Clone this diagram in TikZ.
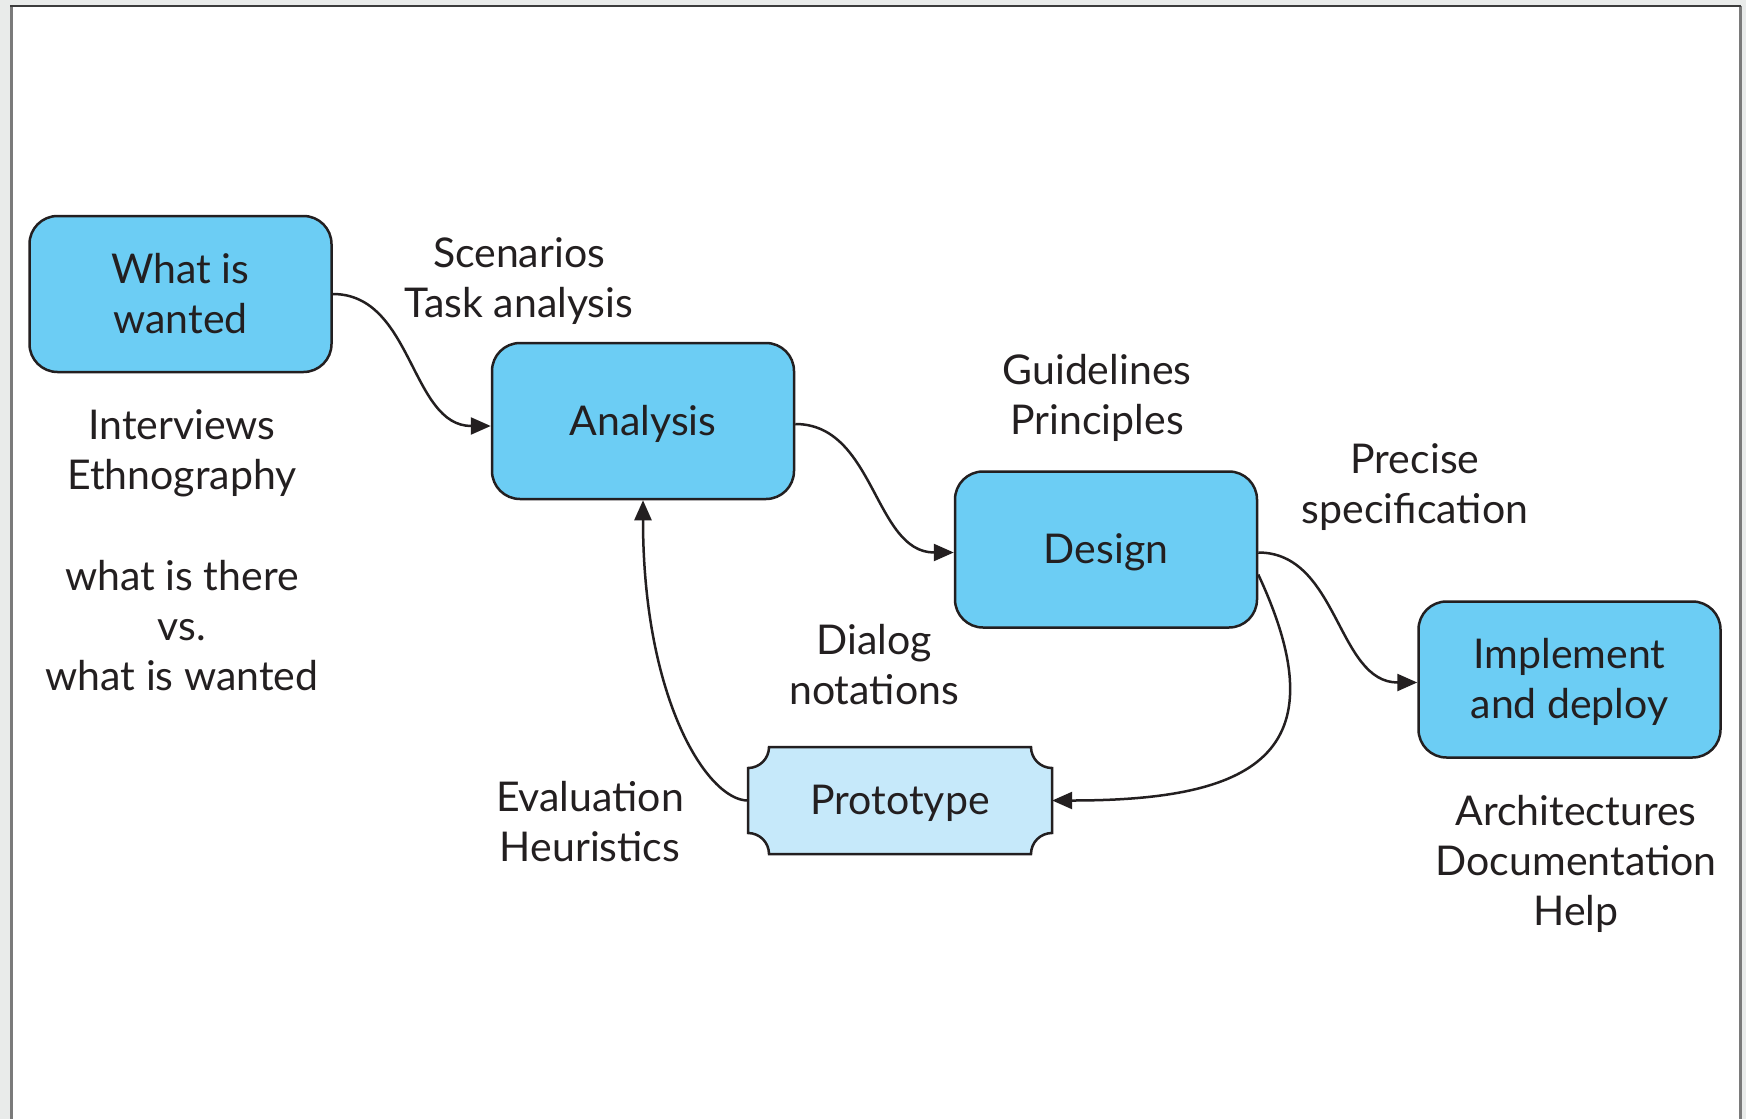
\documentclass[tikz,border=0pt]{standalone}
\usepackage{fontspec}
\setmainfont{Lato}
\usetikzlibrary{arrows.meta,calc}

\definecolor{ink}{HTML}{231F20}
\definecolor{boxblue}{HTML}{6CCDF4}
\definecolor{protoblue}{HTML}{C6E9FA}
\definecolor{pagegray}{HTML}{E9EBEA}
\definecolor{rimgray}{HTML}{7A7A7A}
\definecolor{rimdark}{HTML}{3C3C3C}

% box label set a little below the optical centre, keeping the box size
\newcommand\boxlabel[1]{\raisebox{-4pt}[\height][\depth]{\begin{tabular}{@{}c@{}}#1\end{tabular}}}

\begin{document}
\begin{tikzpicture}[x=1pt,y=1pt,
  every node/.style={text=ink, font=\fontsize{41}{50}\selectfont},
  stagebox/.style={draw=ink, fill=boxblue, line width=2.5pt, rounded corners=28pt,
    minimum width=302pt, minimum height=156pt, align=center, inner sep=0pt},
  protonode/.style={minimum width=304pt, minimum height=107pt, inner sep=0pt},
  protoshape/.style={draw=ink, fill=protoblue, line width=2.5pt},
  note/.style={align=center, inner sep=0pt},
  flow/.style={draw=ink, line width=2.5pt, -{Triangle[length=20pt,width=17pt]}}
]
\useasboundingbox (0,0) rectangle (1746,-1119);

% page frame
\fill[pagegray] (0,0) rectangle (1746,-1119);
\fill[white] (11,-6) rectangle (1740,-1119);
\draw[rimgray, line width=3pt] (11,-1119) -- (11,-6);
\draw[rimgray, line width=3pt] (1740,-6) -- (1740,-1119);
\draw[rimdark, line width=2pt] (10,-6) -- (1741,-6);

% stage boxes
\node[stagebox] (want)   at (180.5,-294)  {\boxlabel{What is\\wanted}};
\node[stagebox] (anal)   at (643,-421)    {\boxlabel{Analysis}};
\node[stagebox] (design) at (1106,-549.5) {\boxlabel{Design}};
\node[stagebox] (impl)   at (1569.5,-679.5) {\boxlabel{Implement\\and deploy}};

% prototype: rectangle with concave corner notches
\path[protoshape] (769,-747) -- (1031,-747)
  .. controls (1031,-758.6) and (1040.4,-768) .. (1052,-768)
  -- (1052,-833)
  .. controls (1040.4,-833) and (1031,-842.4) .. (1031,-854)
  -- (769,-854)
  .. controls (769,-842.4) and (759.6,-833) .. (748,-833)
  -- (748,-768)
  .. controls (759.6,-768) and (769,-758.6) .. (769,-747) -- cycle;
\node[protonode] (proto) at (900,-800.5) {\boxlabel{Prototype}};

% annotations
\node[note] (scen)  at (519,-281.5) {Scenarios\\Task analysis};
\node[note] (intv)  at (182,-453)   {Interviews\\Ethnography};
\node[note] (there) at (182,-626)   {what is there\\vs.\\what is wanted};
\node[note] (guide) at (1097,-398)  {Guidelines\\Principles};
\node[note] (spec)  at (1415,-487)  {Precise\\specification};
\node[note] (dial)  at (874,-665)   {Dialog\\notations};
\node[note] (evalh) at (590,-822)   {Evaluation\\Heuristics};
\node[note] (arch)  at (1576,-863.5) {Architectures\\Documentation\\Help};

% connectors
\draw[flow] (want.east) to[out=0,in=180] ([yshift=-5pt]anal.west);
\draw[flow] ([yshift=-3pt]anal.east) to[out=0,in=180] ([yshift=-3pt]design.west);
\draw[flow] ([yshift=-3pt]design.east) to[out=0,in=180] ([yshift=-3pt]impl.west);
\draw[flow] ([yshift=-25pt]design.east) .. controls +(-65:200) and +(200,0) .. (proto.east);
\draw[flow] (proto.west) .. controls +(-40,0) and +(0,-200) .. (anal.south);
\end{tikzpicture}
\end{document}
